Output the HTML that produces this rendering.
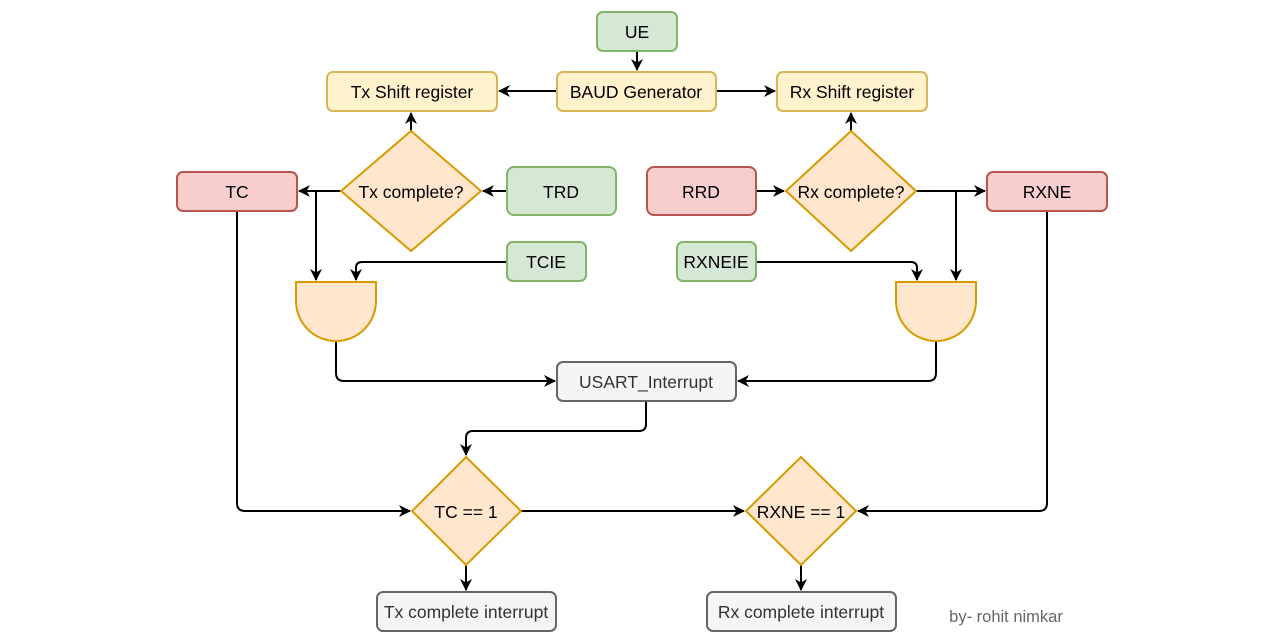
<!DOCTYPE html>
<html><head><meta charset="utf-8"><style>
html,body{margin:0;padding:0;background:#fff;}
svg{display:block;}
text{font-family:"Liberation Sans",Arial,sans-serif;font-size:17.5px;text-anchor:middle;dominant-baseline:central;fill:#000;}
.l{fill:none;stroke:#000;stroke-width:2;}
.g{fill:#d5e8d4;stroke:#82b366;stroke-width:2;}
.y{fill:#fff2cc;stroke:#d6b656;stroke-width:2;}
.r{fill:#f8cecc;stroke:#b85450;stroke-width:2;}
.o{fill:#ffe6cc;stroke:#d79b00;stroke-width:2;}
.w{fill:#f5f5f5;stroke:#666;stroke-width:2;}
</style></head><body>
<svg width="1282" height="643" viewBox="0 0 1282 643">
<defs><marker id="a" markerWidth="14" markerHeight="14" refX="11" refY="6" orient="auto" markerUnits="userSpaceOnUse"><path d="M0,0 L12,6 L0,12 L3.5,6 Z" fill="#000"/></marker></defs>
<path class="l" d="M637,51 V70" marker-end="url(#a)"/>
<path class="l" d="M557,91 H499" marker-end="url(#a)"/>
<path class="l" d="M716,91 H775" marker-end="url(#a)"/>
<path class="l" d="M411,131 V113" marker-end="url(#a)"/>
<path class="l" d="M851,131 V113" marker-end="url(#a)"/>
<path class="l" d="M507,191 H483" marker-end="url(#a)"/>
<path class="l" d="M341,191 H299" marker-end="url(#a)"/>
<path class="l" d="M316,191 V280" marker-end="url(#a)"/>
<path class="l" d="M507,262 H362 Q356,262 356,268 V280" marker-end="url(#a)"/>
<path class="l" d="M336,341 V373 Q336,381 344,381 H555" marker-end="url(#a)"/>
<path class="l" d="M756,191 H784" marker-end="url(#a)"/>
<path class="l" d="M916,191 H985" marker-end="url(#a)"/>
<path class="l" d="M956,191 V280" marker-end="url(#a)"/>
<path class="l" d="M756,262 H911 Q917,262 917,268 V280" marker-end="url(#a)"/>
<path class="l" d="M936,341 V373 Q936,381 928,381 H738" marker-end="url(#a)"/>
<path class="l" d="M646,401 V424 Q646,431 639,431 H473 Q466,431 466,438 V455" marker-end="url(#a)"/>
<path class="l" d="M237,211 V503 Q237,511 245,511 H410" marker-end="url(#a)"/>
<path class="l" d="M521,511 H744" marker-end="url(#a)"/>
<path class="l" d="M1047,211 V503 Q1047,511 1039,511 H858" marker-end="url(#a)"/>
<path class="l" d="M466,565 V590" marker-end="url(#a)"/>
<path class="l" d="M801,565 V590" marker-end="url(#a)"/>
<rect class="g" x="597" y="12" width="80" height="39" rx="6"/><text x="637" y="32">UE</text>
<rect class="y" x="557" y="72" width="159" height="39" rx="6"/><text x="636" y="92">BAUD Generator</text>
<rect class="y" x="327" y="72" width="170" height="39" rx="6"/><text x="412" y="92">Tx Shift register</text>
<rect class="y" x="777" y="72" width="150" height="39" rx="6"/><text x="852" y="92">Rx Shift register</text>
<path class="o" d="M411,131 L481,191 L411,251 L341,191 Z"/><text x="411" y="192">Tx complete?</text>
<path class="o" d="M851,131 L916,191 L851,251 L786,191 Z"/><text x="851" y="192">Rx complete?</text>
<rect class="g" x="507" y="167" width="109" height="48" rx="7"/><text x="561" y="192">TRD</text>
<rect class="r" x="177" y="172" width="120" height="39" rx="6"/><text x="237" y="192">TC</text>
<rect class="g" x="507" y="242" width="79" height="39" rx="6"/><text x="546" y="262">TCIE</text>
<rect class="r" x="647" y="167" width="109" height="48" rx="7"/><text x="701" y="192">RRD</text>
<rect class="r" x="987" y="172" width="120" height="39" rx="6"/><text x="1047" y="192">RXNE</text>
<rect class="g" x="677" y="242" width="79" height="39" rx="6"/><text x="716" y="262">RXNEIE</text>
<path class="o" d="M296,282 H376 V301 A40,40 0 0 1 296,301 Z"/>
<path class="o" d="M896,282 H976 V301 A40,40 0 0 1 896,301 Z"/>
<rect class="w" x="557" y="362" width="179" height="39" rx="6"/><text x="646" y="382" style="fill:#333">USART_Interrupt</text>
<path class="o" d="M466,457 L521,511 L466,565 L412,511 Z"/><text x="466" y="512">TC == 1</text>
<path class="o" d="M801,457 L856,511 L801,565 L746,511 Z"/><text x="801" y="512">RXNE == 1</text>
<rect class="w" x="377" y="592" width="179" height="39" rx="6"/><text x="466" y="612" style="fill:#333">Tx complete interrupt</text>
<rect class="w" x="707" y="592" width="189" height="39" rx="6"/><text x="801" y="612" style="fill:#333">Rx complete interrupt</text>
<text x="1006" y="617" style="fill:#666;font-size:16.5px">by- rohit nimkar</text>
</svg>
</body></html>
